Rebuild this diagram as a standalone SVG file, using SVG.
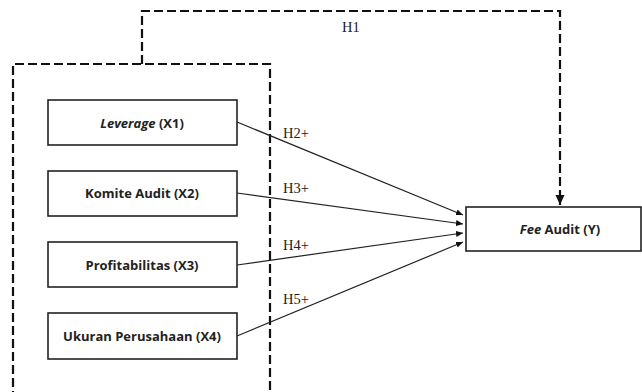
<svg xmlns="http://www.w3.org/2000/svg" width="642" height="392" viewBox="0 0 642 392">
<style>
.box{fill:#fff;stroke:#222;stroke-width:1.6}
.dash{fill:none;stroke:#111;stroke-width:2.2;stroke-dasharray:9,4}
.lbl{font-family:"Open Sans","Liberation Sans",sans-serif;font-weight:bold;font-size:13px;fill:#222;text-anchor:middle}
.h{font-family:"Liberation Serif",serif;font-size:14.5px;fill:#222}
.conn{stroke:#222;stroke-width:1.2;fill:none}
</style>
<defs>
<marker id="ah" markerWidth="8" markerHeight="8" refX="7" refY="4" orient="auto" markerUnits="userSpaceOnUse">
<path d="M0,1 L7,4 L0,7 z" fill="#111"/>
</marker>
<marker id="ah2" markerWidth="12" markerHeight="12" refX="10" refY="6" orient="auto" markerUnits="userSpaceOnUse">
<path d="M0,1.5 L10,6 L0,10.5 z" fill="#111"/>
</marker>
</defs>
<g id="group-box">
<path class="dash" d="M13,400 L13,64 L270,64 L270,400"/>
</g>
<g id="connectors">
<path class="dash" d="M142,64 L142,11 L560,11 L560,205" marker-end="url(#ah2)"/>
<line class="conn" x1="237" y1="122" x2="463" y2="215" marker-end="url(#ah)"/>
<line class="conn" x1="237" y1="193" x2="463" y2="224" marker-end="url(#ah)"/>
<line class="conn" x1="237" y1="265" x2="463" y2="233" marker-end="url(#ah)"/>
<line class="conn" x1="237" y1="336" x2="463" y2="242" marker-end="url(#ah)"/>
<text class="h" x="342" y="32">H1</text>
<text class="h" x="283" y="138">H2+</text>
<text class="h" x="283" y="193">H3+</text>
<text class="h" x="283" y="250">H4+</text>
<text class="h" x="283" y="304">H5+</text>
</g>
<g id="x1">
<rect class="box" x="48" y="100" width="189" height="45"/>
<text class="lbl" x="142" y="128"><tspan font-style="italic">Leverage</tspan> (X1)</text>
</g>
<g id="x2">
<rect class="box" x="48" y="171" width="189" height="45"/>
<text class="lbl" x="142" y="198">Komite Audit (X2)</text>
</g>
<g id="x3">
<rect class="box" x="48" y="242" width="189" height="45"/>
<text class="lbl" x="142" y="270">Profitabilitas (X3)</text>
</g>
<g id="x4">
<rect class="box" x="48" y="313" width="189" height="46"/>
<text class="lbl" x="142" y="341">Ukuran Perusahaan (X4)</text>
</g>
<g id="y">
<rect class="box" x="466" y="207" width="175" height="44"/>
<text class="lbl" x="560" y="234"><tspan font-style="italic">Fee</tspan> Audit (Y)</text>
</g>
</svg>
